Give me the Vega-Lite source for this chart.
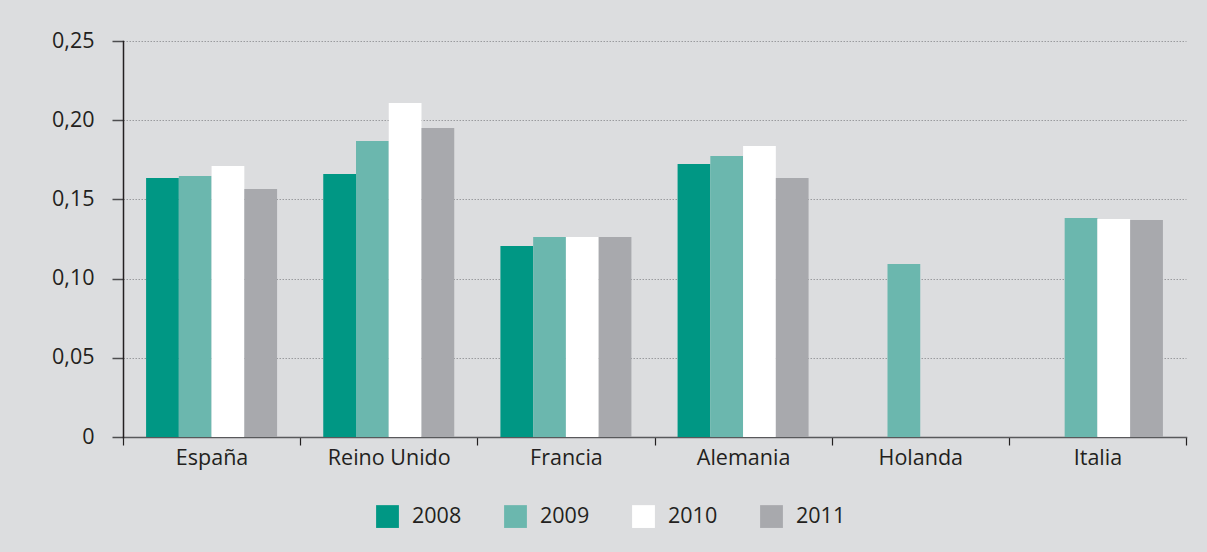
{
  "$schema": "https://vega.github.io/schema/vega-lite/v6.json",
  "width": 1063,
  "height": 396,
  "autosize": {"type": "none"},
  "padding": {"left": 123, "top": 41, "right": 21, "bottom": 115},
  "background": "#dcdddf",
  "data": {
    "values": [
      {"pais": "España", "anio": "2008", "valor": 0.1635},
      {"pais": "España", "anio": "2009", "valor": 0.1648},
      {"pais": "España", "anio": "2010", "valor": 0.1711},
      {"pais": "España", "anio": "2011", "valor": 0.1566},
      {"pais": "Reino Unido", "anio": "2008", "valor": 0.166},
      {"pais": "Reino Unido", "anio": "2009", "valor": 0.1869},
      {"pais": "Reino Unido", "anio": "2010", "valor": 0.2109},
      {"pais": "Reino Unido", "anio": "2011", "valor": 0.1951},
      {"pais": "Francia", "anio": "2008", "valor": 0.1206},
      {"pais": "Francia", "anio": "2009", "valor": 0.1263},
      {"pais": "Francia", "anio": "2010", "valor": 0.1263},
      {"pais": "Francia", "anio": "2011", "valor": 0.1263},
      {"pais": "Alemania", "anio": "2008", "valor": 0.1723},
      {"pais": "Alemania", "anio": "2009", "valor": 0.1774},
      {"pais": "Alemania", "anio": "2010", "valor": 0.1837},
      {"pais": "Alemania", "anio": "2011", "valor": 0.1635},
      {"pais": "Holanda", "anio": "2009", "valor": 0.1092},
      {"pais": "Italia", "anio": "2009", "valor": 0.1383},
      {"pais": "Italia", "anio": "2010", "valor": 0.1376},
      {"pais": "Italia", "anio": "2011", "valor": 0.137}
    ]
  },
  "mark": {"type": "bar"},
  "encoding": {
    "x": {
      "field": "pais",
      "type": "nominal",
      "sort": ["España", "Reino Unido", "Francia", "Alemania", "Holanda", "Italia"],
      "scale": {"paddingInner": 0, "paddingOuter": 0},
      "axis": {
        "title": null,
        "labelAngle": 0,
        "tickBand": "extent",
        "tickSize": 8,
        "tickColor": "#231f20",
        "tickWidth": 1.2,
        "domainColor": "#58595b",
        "domainWidth": 1.5,
        "labelFont": "Open Sans",
        "labelFontSize": 21.5,
        "labelColor": "#231f20",
        "labelPadding": 2,
        "grid": false
      }
    },
    "xOffset": {
      "field": "anio",
      "type": "nominal",
      "sort": ["2008", "2009", "2010", "2011"],
      "scale": {"domain": ["2008", "2009", "2010", "2011"], "paddingInner": 0, "paddingOuter": 0.705}
    },
    "y": {
      "field": "valor",
      "type": "quantitative",
      "scale": {"domain": [0, 0.25], "nice": false},
      "axis": {
        "title": null,
        "values": [0, 0.05, 0.1, 0.15, 0.2, 0.25],
        "labelExpr": "datum.value == 0 ? '0' : replace(format(datum.value, '.2f'), '.', ',')",
        "tickSize": 11,
        "tickColor": "#4d4d4f",
        "tickWidth": 1.5,
        "domainColor": "#231f20",
        "domainWidth": 1.5,
        "labelFont": "Open Sans",
        "labelFontSize": 21.5,
        "labelColor": "#231f20",
        "labelPadding": 18,
        "grid": true,
        "gridColor": "#9a9b9e",
        "gridDash": [1.5, 1.5],
        "gridWidth": 1
      }
    },
    "color": {
      "field": "anio",
      "type": "nominal",
      "scale": {
        "domain": ["2008", "2009", "2010", "2011"],
        "range": ["#009784", "#6bb7ae", "#ffffff", "#a8a9ad"]
      },
      "legend": {
        "title": null,
        "orient": "none",
        "legendX": 253,
        "legendY": 464,
        "direction": "horizontal",
        "symbolType": "square",
        "symbolSize": 520,
        "symbolStrokeWidth": 0,
        "symbolOpacity": 1,
        "labelFont": "Open Sans",
        "labelFontSize": 21.5,
        "labelColor": "#231f20",
        "labelOffset": 13,
        "columnPadding": 42,
        "padding": 0
      }
    }
  },
  "config": {
    "view": {"stroke": null},
    "axis": {"domainCap": "square"}
  }
}
